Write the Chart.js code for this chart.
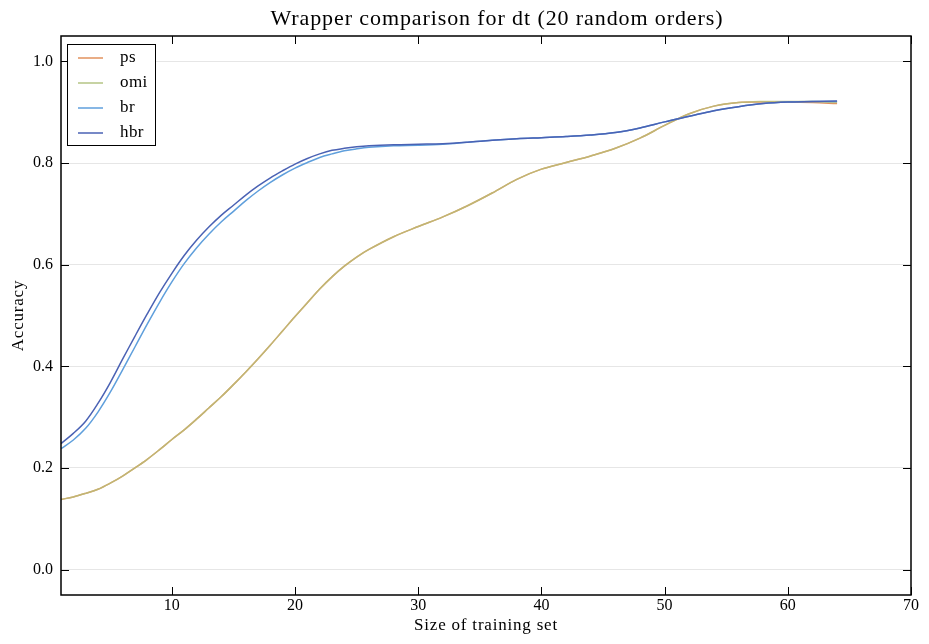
<!DOCTYPE html>
<html>
<head>
<meta charset="utf-8">
<script src="https://cdn.jsdelivr.net/npm/chart.js@4.4.1/dist/chart.umd.min.js"></script>
<style>
  html, body { margin: 0; padding: 0; background: #fff; }
  #wrap { width: 929px; height: 644px; }
</style>
</head>
<body>
<div id="wrap"><canvas id="chart"></canvas></div>
<script>
// training set sizes (x) shared by every series
const sizes = [1, 2, 3, 4, 5, 6, 7, 8, 9, 10, 11, 12, 13, 14, 15, 16, 17, 18, 19, 20,
  21, 22, 23, 24, 25, 26, 28, 30, 32, 34, 36, 38, 40, 42, 44, 46, 48, 50, 52, 54,
  56, 58, 60, 62, 64];

const psAcc = [0.138, 0.143, 0.150, 0.158, 0.170, 0.184, 0.200, 0.217, 0.236, 0.256,
  0.275, 0.296, 0.318, 0.340, 0.364, 0.389, 0.415, 0.442, 0.470, 0.498,
  0.525, 0.552, 0.576, 0.597, 0.615, 0.630, 0.655, 0.675, 0.694, 0.716,
  0.741, 0.768, 0.788, 0.801, 0.814, 0.829, 0.849, 0.874, 0.897, 0.912,
  0.919, 0.920, 0.920, 0.919, 0.917];
const omiAcc = [0.138, 0.143, 0.150, 0.158, 0.170, 0.184, 0.200, 0.217, 0.236, 0.256,
  0.275, 0.296, 0.318, 0.340, 0.364, 0.389, 0.415, 0.442, 0.470, 0.498,
  0.525, 0.552, 0.576, 0.597, 0.615, 0.630, 0.655, 0.675, 0.694, 0.716,
  0.741, 0.768, 0.788, 0.801, 0.814, 0.829, 0.849, 0.874, 0.897, 0.912,
  0.919, 0.921, 0.921, 0.921, 0.919];
const brAcc = [0.238, 0.255, 0.278, 0.310, 0.349, 0.393, 0.438, 0.483, 0.526, 0.566,
  0.602, 0.633, 0.660, 0.684, 0.705, 0.726, 0.745, 0.762, 0.777, 0.790,
  0.801, 0.811, 0.818, 0.824, 0.828, 0.831, 0.834, 0.835, 0.837, 0.841,
  0.845, 0.848, 0.850, 0.852, 0.855, 0.860, 0.869, 0.881, 0.892, 0.903,
  0.911, 0.917, 0.920, 0.921, 0.921];
const hbrAcc = [0.248, 0.268, 0.292, 0.327, 0.368, 0.414, 0.459, 0.503, 0.545, 0.583,
  0.618, 0.648, 0.674, 0.697, 0.717, 0.737, 0.755, 0.771, 0.785, 0.798,
  0.809, 0.818, 0.825, 0.829, 0.832, 0.834, 0.836, 0.837, 0.838, 0.841,
  0.845, 0.848, 0.850, 0.852, 0.855, 0.860, 0.869, 0.881, 0.892, 0.903,
  0.911, 0.917, 0.920, 0.921, 0.922];

const seriesNames = ['ps', 'omi', 'br', 'hbr'];
const seriesColors = ['#e2925e', 'rgba(184,190,120,0.82)', '#5f9fdc', '#4a62b4'];
const legendColors = ['#e2925e', '#b5c585', '#5f9fdc', '#4a62b4'];
const xTicks = [10, 20, 30, 40, 50, 60, 70];
const yTicks = [0.0, 0.2, 0.4, 0.6, 0.8, 1.0];

const titleText = 'Wrapper comparison for dt (20 random orders)';
const xTitle = 'Size of training set';
const yTitle = 'Accuracy';

const FONT = '"Liberation Serif", "DejaVu Serif", serif';

function toPoints(ys) {
  return sizes.map((x, i) => ({ x, y: ys[i] }));
}

function spaced(ctx, px) {
  if ('letterSpacing' in ctx) ctx.letterSpacing = px + 'px';
}

// frame, inward ticks, titles and the boxed legend
const framePlugin = {
  id: 'frame',
  afterDraw(chart) {
    const { ctx, chartArea: a, scales } = chart;
    ctx.save();
    ctx.strokeStyle = '#000';
    ctx.lineWidth = 1;
    ctx.beginPath();
    xTicks.forEach(v => {
      const px = Math.round(scales.x.getPixelForValue(v)) + 0.5;
      ctx.moveTo(px, a.bottom); ctx.lineTo(px, a.bottom - 8);
      ctx.moveTo(px, a.top); ctx.lineTo(px, a.top + 8);
    });
    yTicks.forEach(v => {
      const py = Math.round(scales.y.getPixelForValue(v)) + 0.5;
      ctx.moveTo(a.left, py); ctx.lineTo(a.left + 8, py);
      ctx.moveTo(a.right, py); ctx.lineTo(a.right - 8, py);
    });
    ctx.stroke();
    ctx.lineWidth = 1.5;
    ctx.strokeRect(a.left, a.top, a.right - a.left, a.bottom - a.top);

    // titles
    ctx.fillStyle = '#000';
    ctx.textAlign = 'center';
    ctx.textBaseline = 'alphabetic';
    ctx.font = '22px ' + FONT;
    spaced(ctx, 0.9);
    ctx.fillText(titleText, 497, 25);
    ctx.font = '17px ' + FONT;
    spaced(ctx, 0.8);
    ctx.fillText(xTitle, (a.left + a.right) / 2, 630);
    ctx.save();
    ctx.translate(23, (a.top + a.bottom) / 2);
    ctx.rotate(-Math.PI / 2);
    ctx.fillText(yTitle, 0, 0);
    ctx.restore();

    // legend
    const lx = a.left + 6, ly = a.top + 8, lw = 88, lh = 101;
    ctx.fillStyle = '#fff';
    ctx.fillRect(lx, ly, lw, lh);
    ctx.strokeStyle = '#000';
    ctx.lineWidth = 1;
    ctx.strokeRect(lx + 0.5, ly + 0.5, lw, lh);
    ctx.font = '17px ' + FONT;
    spaced(ctx, 0.4);
    ctx.textAlign = 'left';
    ctx.textBaseline = 'middle';
    chart.data.datasets.forEach((ds, i) => {
      const ry = ly + 14 + i * 25;
      ctx.strokeStyle = legendColors[i];
      ctx.lineWidth = 1.5;
      ctx.beginPath();
      ctx.moveTo(lx + 11, ry); ctx.lineTo(lx + 36, ry);
      ctx.stroke();
      ctx.fillStyle = '#000';
      ctx.fillText(ds.label, lx + 53, ry);
    });
    ctx.restore();
  }
};

new Chart(document.getElementById('chart'), {
  type: 'line',
  data: {
    datasets: seriesNames.map((name, i) => ({
      label: name,
      data: toPoints([psAcc, omiAcc, brAcc, hbrAcc][i]),
      borderColor: seriesColors[i],
      borderWidth: 1.5,
      pointRadius: 0,
      tension: 0.35,
      order: seriesNames.length - i,
      fill: false
    }))
  },
  options: {
    responsive: true,
    maintainAspectRatio: false,
    animation: false,
    layout: { padding: { left: 0, right: 18, top: 36, bottom: 0 } },
    plugins: {
      legend: { display: false },
      tooltip: { enabled: false },
      title: { display: false }
    },
    scales: {
      x: {
        type: 'linear',
        min: 1,
        max: 70,
        afterBuildTicks: s => { s.ticks = xTicks.map(v => ({ value: v })); },
        afterFit: s => { s.height = 49; },
        grid: { display: false, drawTicks: false },
        border: { display: false },
        ticks: { color: '#000', padding: 1, font: { family: FONT, size: 16 } }
      },
      y: {
        type: 'linear',
        min: -0.05,
        max: 1.05,
        afterBuildTicks: s => { s.ticks = yTicks.map(v => ({ value: v })); },
        afterFit: s => { s.width = 61; },
        grid: { color: '#e6e6e6', drawTicks: false },
        border: { display: false },
        ticks: { color: '#000', padding: 8, font: { family: FONT, size: 16 }, callback: v => v.toFixed(1) }
      }
    }
  },
  plugins: [framePlugin]
});
</script>
</body>
</html>
